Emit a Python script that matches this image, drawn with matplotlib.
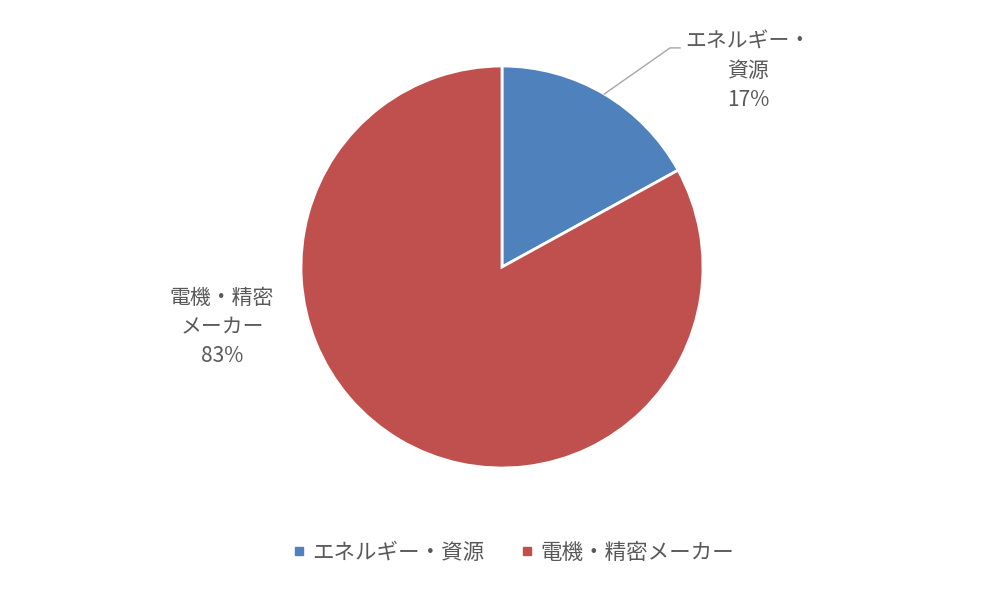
import numpy as np
import matplotlib
matplotlib.use("Agg")
import matplotlib.pyplot as plt
from matplotlib.lines import Line2D

plt.rcParams["font.family"] = ["Noto Sans CJK JP", "DejaVu Sans"]

# ── data ──────────────────────────────────────────────────────────────────────
categories = ["エネルギー・資源", "電機・精密メーカー"]
label_text = ["エネルギー・\n資源", "電機・精密\nメーカー"]
shares = [17, 83]
colours = ["#4F81BD", "#C0504D"]
text_col = "#595959"

fig = plt.figure(figsize=(10.06, 5.98), dpi=100)
# pie box: centre (502, 267) px, radius ~201 px
ax = fig.add_axes([301 / 1006, 130 / 598, 402 / 1006, 402 / 598])

wedges, _ = ax.pie(shares, colors=colours, startangle=90, counterclock=False,
                   radius=1.0, wedgeprops=dict(edgecolor="white", linewidth=2))
ax.set_xlim(-1, 1)
ax.set_ylim(-1, 1)
ax.set_aspect("equal")
ax.axis("off")

# data labels
pos = [(1.224, 0.975), (-1.393, -0.30)]
for (x, y), txt, s in zip(pos, label_text, shares):
    ax.text(x, y, f"{txt}\n{s}%", ha="center", va="center", fontsize=15,
            color=text_col, linespacing=1.42, clip_on=False)

# leader line for the small slice
mid = np.deg2rad(90 - shares[0] * 3.6 / 2)
ex, ey = np.cos(mid), np.sin(mid)
ax.plot([ex, 0.836, 0.886], [ey, 1.09, 1.09], color="#A6A6A6", lw=1,
        clip_on=False)

# legend
handles = [Line2D([], [], marker="s", ls="", color=c, markersize=6) for c in colours]
fig.legend(handles, categories, loc="center", bbox_to_anchor=(511 / 1006, 1 - 553 / 598),
           ncol=2, frameon=False, fontsize=15.5, handletextpad=0.1, columnspacing=1.5,
           labelcolor=text_col, handlelength=1)

fig.savefig("out.png", dpi=100, facecolor="white")
